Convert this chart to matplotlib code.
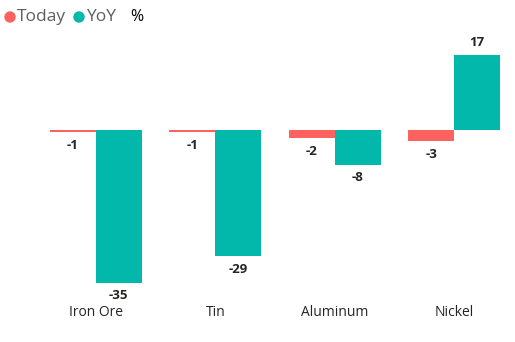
import matplotlib
matplotlib.use("Agg")
import matplotlib.pyplot as plt
import numpy as np

categories = ["Iron Ore", "Tin", "Aluminum", "Nickel"]
today = [-0.6, -0.6, -2.0, -2.6]
yoy = [-35, -29, -8, 17]
today_labels = ["-1", "-1", "-2", "-3"]
yoy_labels = ["-35", "-29", "-8", "17"]

c_today = "#FD625E"
c_yoy = "#01B8AA"

W, H = 515, 342
fig = plt.figure(figsize=(W/100, H/100), dpi=100)
ax_left, ax_right, ax_top, ax_bot = 36, 514, 35, 300
ax = fig.add_axes([ax_left/W, (H-ax_bot)/H, (ax_right-ax_left)/W, (ax_bot-ax_top)/H])

zero_px = 129.7
ppu = 4.37
ax.set_ylim(-(ax_bot-zero_px)/ppu, (zero_px-ax_top)/ppu)
ax.set_xlim(-0.5, len(categories)-0.5)

x = np.arange(len(categories))
bw = 0.385
ax.bar(x - bw/2, today, bw, color=c_today)
ax.bar(x + bw/2, yoy, bw, color=c_yoy)

font = "Open Sans"
off = 13/ppu
for i in range(len(categories)):
    for xv, v, lab in ((x[i]-bw/2, today[i], today_labels[i]), (x[i]+bw/2, yoy[i], yoy_labels[i])):
        y = v - off if v < 0 else v + off
        ax.text(xv, y, lab, ha="center", va="center", fontsize=9.5, fontweight="bold",
                color="#252423", family=font)

for s in ax.spines.values():
    s.set_visible(False)
ax.set_yticks([])
ax.set_xticks([])

for i, c in enumerate(categories):
    fig.text((ax_left + (i+0.5)*(ax_right-ax_left)/len(categories))/W, 1-313/H, c,
             ha="center", va="center", fontsize=10, family=font, color="#252423")

# legend
ly = 1 - 17/H
fig.patches.append(matplotlib.patches.Ellipse((10/W, ly), 10/W, 10/H, transform=fig.transFigure, color=c_today))
fig.text(17/W, ly, "Today", ha="left", va="center", fontsize=12.5, family=font, color="#605E5C")
fig.patches.append(matplotlib.patches.Ellipse((79/W, ly), 10/W, 10/H, transform=fig.transFigure, color=c_yoy))
fig.text(86/W, ly, "YoY", ha="left", va="center", fontsize=12.5, family=font, color="#605E5C")
fig.text(130/W, ly, "%", ha="left", va="center", fontsize=11.5, family=font, color="#000000")

fig.savefig("out.png", dpi=100)
